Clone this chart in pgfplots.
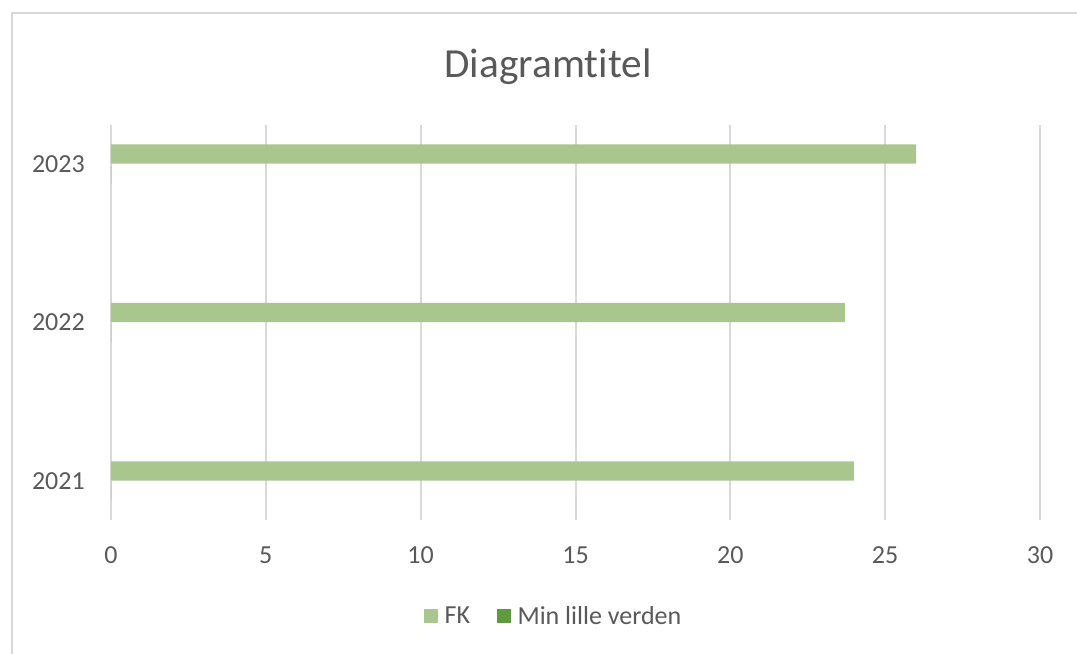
\documentclass[border=0pt]{standalone}
\usepackage{pgfplots}
\pgfplotsset{compat=1.18}
\usepackage{fontspec}
\setmainfont{Carlito}[Ligatures=NoCommon]

\definecolor{fkgreen}{HTML}{A9C68F}
\definecolor{mlvgreen}{HTML}{5F9B3D}
\definecolor{txtgray}{HTML}{595959}
\definecolor{gridgray}{HTML}{D9D9D9}

\begin{document}
\begin{tikzpicture}
% page = 1077 x 653 px at 0.75pt per px
\path[use as bounding box] (0pt,0pt) rectangle (807.75pt,489.75pt);
\draw[gridgray, line width=1.5pt] (9pt,-2pt) -- (9pt,480pt) -- (810pt,480pt);
\node[anchor=base, text=txtgray, font=\fontsize{31}{37}\selectfont]
  at (411pt,431.25pt) {Diagramtitel};

\begin{axis}[
    at={(83.25pt,99.75pt)}, anchor=south west,
    scale only axis,
    width=696.75pt, height=296.25pt,
    xbar, bar width=14.6pt,
    xmin=0, xmax=30,
    xtick={0,5,10,15,20,25,30},
    ymin=-0.246, ymax=2.246,
    ytick={0,1,2},
    yticklabels={2021,2022,2023},
    xmajorgrids,
    grid style={gridgray, line width=1.5pt},
    axis line style={draw=none},
    major tick length=0pt,
    tick label style={text=txtgray, font=\fontsize{19.5}{23}\selectfont, inner sep=0pt},
    yticklabel style={xshift=-19.5pt},
    xticklabel style={yshift=-20pt},
    /pgf/number format/assume math mode=true,
    legend columns=2,
    legend style={at={(0.4769,-0.243)}, anchor=center, draw=none, fill=none,
        font=\fontsize{19.5}{23.5}\selectfont, text=txtgray,
        /tikz/every odd column/.append style={column sep=3pt},
        /tikz/every even column/.append style={column sep=18pt}},
    legend image code/.code={\fill[#1] (0pt,-5pt) rectangle (10.5pt,5.5pt);},
]
\addplot[fill=fkgreen, draw=none, bar shift=7.5pt]
    coordinates {(24,0) (23.7,1) (26,2)};
\addlegendentry{FK}
\addplot[fill=mlvgreen, draw=none, bar shift=-7.5pt]
    coordinates {(0,0) (0,1) (0,2)};
\addlegendentry{Min lille verden}
\end{axis}
\end{tikzpicture}
\end{document}
